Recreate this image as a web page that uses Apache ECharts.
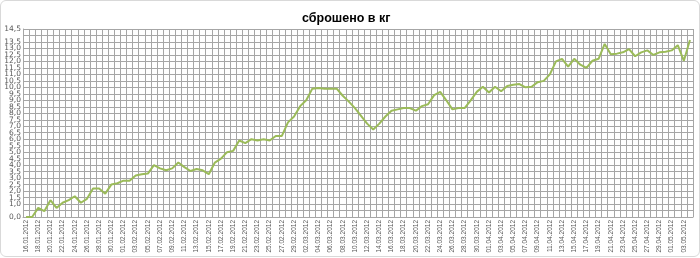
<!DOCTYPE html>
<html>
<head>
<meta charset="utf-8">
<script src="https://cdn.jsdelivr.net/npm/echarts@6/dist/echarts.min.js"></script>
<style>
html,body{margin:0;padding:0;background:#fff;}
#wrap{position:relative;width:700px;height:258px;}
#chart{position:absolute;left:0;top:0;width:700px;height:258px;}
#frame{position:absolute;left:0;top:0;width:698px;height:255px;border:1px solid #d9d9d9;border-radius:6px;pointer-events:none;}
</style>
</head>
<body>
<div id="wrap"><div id="chart"></div><div id="frame"></div></div>
<script>
const titleText = 'сброшено в кг';
const categories = [
'16.01.2012','17.01.2012','18.01.2012','19.01.2012','20.01.2012','21.01.2012','22.01.2012','23.01.2012','24.01.2012','25.01.2012',
'26.01.2012','27.01.2012','28.01.2012','29.01.2012','30.01.2012','31.01.2012','01.02.2012','02.02.2012','03.02.2012','04.02.2012',
'05.02.2012','06.02.2012','07.02.2012','08.02.2012','09.02.2012','10.02.2012','11.02.2012','12.02.2012','13.02.2012','14.02.2012',
'15.02.2012','16.02.2012','17.02.2012','18.02.2012','19.02.2012','20.02.2012','21.02.2012','22.02.2012','23.02.2012','24.02.2012',
'25.02.2012','26.02.2012','27.02.2012','28.02.2012','29.02.2012','01.03.2012','02.03.2012','03.03.2012','04.03.2012','05.03.2012',
'06.03.2012','07.03.2012','08.03.2012','09.03.2012','10.03.2012','11.03.2012','12.03.2012','13.03.2012','14.03.2012','15.03.2012',
'16.03.2012','17.03.2012','18.03.2012','19.03.2012','20.03.2012','21.03.2012','22.03.2012','23.03.2012','24.03.2012','25.03.2012',
'26.03.2012','27.03.2012','28.03.2012','29.03.2012','30.03.2012','31.03.2012','01.04.2012','02.04.2012','03.04.2012','04.04.2012',
'05.04.2012','06.04.2012','07.04.2012','08.04.2012','09.04.2012','10.04.2012','11.04.2012','12.04.2012','13.04.2012','14.04.2012',
'15.04.2012','16.04.2012','17.04.2012','18.04.2012','19.04.2012','20.04.2012','21.04.2012','22.04.2012','23.04.2012','24.04.2012',
'25.04.2012','26.04.2012','27.04.2012','28.04.2012','29.04.2012','30.04.2012','01.05.2012','02.05.2012','03.05.2012','04.05.2012'
];
const lostKg = [
0.0,0.0,0.7,0.45,1.3,0.7,1.1,1.3,1.6,1.1,
1.4,2.2,2.2,1.8,2.5,2.6,2.8,2.8,3.2,3.3,
3.35,4.0,3.75,3.6,3.75,4.2,3.85,3.55,3.7,3.6,
3.3,4.2,4.5,5.0,5.1,5.9,5.7,6.0,5.9,6.0,
5.9,6.25,6.25,7.3,7.75,8.55,9.0,9.9,9.95,9.9,
9.9,9.9,9.35,8.9,8.4,7.8,7.2,6.75,7.2,7.75,
8.2,8.3,8.4,8.4,8.2,8.55,8.7,9.4,9.65,9.0,
8.3,8.4,8.4,9.0,9.65,10.05,9.6,10.05,9.7,10.1,
10.2,10.25,10.0,10.05,10.4,10.5,11.0,12.0,12.2,11.6,
12.2,11.75,11.5,12.05,12.2,13.35,12.55,12.6,12.7,12.95,
12.4,12.7,12.85,12.5,12.7,12.75,12.85,13.25,12.05,13.65
];
const yMin = 0, yMax = 14.5, yStep = 0.5;

const chart = echarts.init(document.getElementById('chart'), null, {renderer:'canvas'});
chart.setOption({
  animation: false,
  backgroundColor: '#ffffff',
  title: {
    text: titleText, left: 297, top: 7,
    textStyle: {fontFamily: 'Liberation Sans', fontSize: 12.5, fontWeight: 'bold', color: '#000'}
  },
  grid: {left: 23, right: 7, top: 29, bottom: 41, containLabel: false},
  xAxis: {
    type: 'category', data: categories, boundaryGap: true,
    axisLine: {show: true, lineStyle: {color: '#a6a6a6', width: 1}},
    axisTick: {show: false},
    axisLabel: {interval: 1, rotate: 90, fontFamily: 'Liberation Sans', fontSize: 6.5, color: '#595959', margin: 3, hideOverlap: false},
    splitLine: {show: true, interval: 0, lineStyle: {color: '#a6a6a6', width: 1}}
  },
  yAxis: {
    type: 'value', min: yMin, max: yMax, interval: yStep,
    axisLine: {show: true, lineStyle: {color: '#a6a6a6', width: 1}},
    axisTick: {show: false},
    axisLabel: {fontFamily: 'DejaVu Sans', fontSize: 7.5, color: '#595959', margin: 2,
      showMinLabel: true, showMaxLabel: true, hideOverlap: false,
      formatter: v => v.toFixed(1).replace('.', ',')},
    splitLine: {show: true, lineStyle: {color: '#a6a6a6', width: 1}}
  },
  series: [{
    type: 'line', data: lostKg, showSymbol: false, symbol: 'none',
    lineStyle: {color: '#9bbb59', width: 2}, itemStyle: {color: '#9bbb59'}
  }]
});
</script>
</body>
</html>
